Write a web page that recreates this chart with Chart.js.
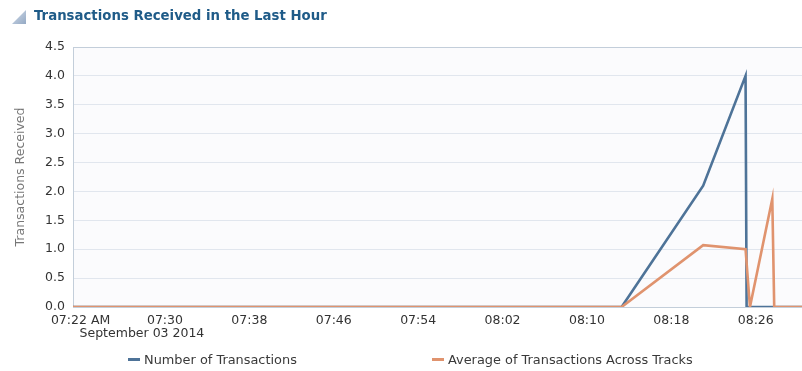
<!DOCTYPE html>
<html>
<head>
<meta charset="utf-8">
<script src="https://cdn.jsdelivr.net/npm/chart.js@4/dist/chart.umd.min.js"></script>
<style>
  html, body { margin: 0; padding: 0; background: #ffffff; }
  #wrap { position: relative; width: 802px; height: 371px; overflow: hidden; font-family: "DejaVu Sans", sans-serif; }
  #chart { position: absolute; left: 0; top: 0; }
  #title { position: absolute; left: 34px; top: 8px; font-size: 13.3px; font-weight: bold; color: #1f5b88; white-space: nowrap; }
  #icon { position: absolute; left: 12px; top: 10px; }
  .leg { position: absolute; top: 352px; font-size: 12.9px; color: #3a3a3a; white-space: nowrap; }
  .sw { display: inline-block; width: 12px; height: 3px; vertical-align: middle; margin-right: 4px; position: relative; top: -1px; }
</style>
</head>
<body>
<div id="wrap">
  <canvas id="chart" width="802" height="371"></canvas>
  <svg id="icon" width="14" height="14" viewBox="0 0 14 14">
    <defs>
      <linearGradient id="tri" x1="0" y1="0" x2="1" y2="1">
        <stop offset="0" stop-color="#d3ddea"/>
        <stop offset="1" stop-color="#94a9c4"/>
      </linearGradient>
    </defs>
    <polygon points="14,0 14,14 0,14" fill="url(#tri)"/>
  </svg>
  <div id="title">Transactions Received in the Last Hour</div>
  <div class="leg" style="left:128px"><span class="sw" style="background:#4e7398"></span>Number of Transactions</div>
  <div class="leg" style="left:432px"><span class="sw" style="background:#e0936e"></span>Average of Transactions Across Tracks</div>
</div>
<script>
// Sample times (HH:MM:SS) and values for each series
const countTimes = ["07:21:17", "08:13:17", "08:21:01", "08:25:02", "08:25:08", "08:30:23"];
const countValues = [0, 0, 2.1, 4.0, 0, 0];
const avgTimes = ["07:21:17", "08:13:17", "08:21:01", "08:25:02", "08:25:27", "08:27:34", "08:27:45", "08:30:23"];
const avgValues = [0, 0, 1.07, 1.0, 0, 1.87, 0, 0];
const xTickTimes = ["07:22", "07:30", "07:38", "07:46", "07:54", "08:02", "08:10", "08:18", "08:26"];
const yTicks = [0, 0.5, 1.0, 1.5, 2.0, 2.5, 3.0, 3.5, 4.0, 4.5];
const dateLabel = "September 03 2014";
const rangeStart = "07:21:17";
const rangeEnd = "08:30:23";

function toMinutes(t) {
  const p = t.split(":").map(Number);
  return p[0] * 60 + p[1] + (p[2] || 0) / 60;
}
function fmt(m) {
  const h = Math.floor(m / 60), mm = Math.round(m - h * 60);
  return String(h).padStart(2, "0") + ":" + String(mm).padStart(2, "0");
}
const pts = (times, vals) => times.map((t, i) => ({ x: toMinutes(t), y: vals[i] }));
const firstTick = toMinutes(xTickTimes[0]);
const FONT = "DejaVu Sans";

// plot background and the date line under the first time tick
const plotDecor = {
  id: "plotDecor",
  beforeDraw(chart) {
    const a = chart.chartArea, ctx = chart.ctx;
    ctx.save();
    ctx.fillStyle = "#fbfbfd";
    ctx.fillRect(a.left, a.top, a.right - a.left, a.bottom - a.top);
    ctx.restore();
  },
  afterDraw(chart) {
    const ctx = chart.ctx, x = chart.scales.x.getPixelForValue(firstTick);
    ctx.save();
    ctx.font = "12.5px '" + FONT + "'";
    ctx.fillStyle = "#333333";
    ctx.textAlign = "left";
    ctx.textBaseline = "middle";
    ctx.fillText(dateLabel, x - 1, 334);
    ctx.restore();
  }
};

new Chart(document.getElementById("chart"), {
  type: "line",
  data: {
    datasets: [
      {
        label: "Average of Transactions Across Tracks",
        data: pts(avgTimes, avgValues),
        borderColor: "#e0936e",
        borderWidth: 2.6,
        pointRadius: 0,
        tension: 0,
        fill: false
      },
      {
        label: "Number of Transactions",
        data: pts(countTimes, countValues),
        borderColor: "#4e7398",
        borderWidth: 2.6,
        pointRadius: 0,
        tension: 0,
        fill: false
      }
    ]
  },
  options: {
    responsive: false,
    animation: false,
    layout: { padding: { top: 47, right: 0, bottom: 20, left: 0 } },
    plugins: { legend: { display: false }, tooltip: { enabled: false } },
    scales: {
      x: {
        type: "linear",
        min: toMinutes(rangeStart),
        max: toMinutes(rangeEnd),
        afterBuildTicks(s) { s.ticks = xTickTimes.map(t => ({ value: toMinutes(t) })); },
        afterFit(s) { s.height = 44; },
        grid: { display: false, drawTicks: false },
        border: { display: true, color: "#c3ceda", width: 1 },
        ticks: {
          padding: 6,
          maxRotation: 0,
          autoSkip: false,
          color: "#333333",
          font: { family: FONT, size: 12.5 },
          callback: (v, i) => i === 0 ? fmt(v) + " AM" : fmt(v)
        }
      },
      y: {
        min: 0,
        max: 4.5,
        afterBuildTicks(s) { s.ticks = yTicks.map(v => ({ value: v })); },
        afterFit(s) { s.width = 73; },
        grid: {
          drawTicks: false,
          color: ctx => ctx.tick && ctx.tick.value === 4.5 ? "#c3ceda" : "#e1e6ee",
          lineWidth: 1
        },
        border: { display: true, color: "#c3ceda", width: 1 },
        ticks: {
          padding: 8,
          color: "#333333",
          font: { family: FONT, size: 12.5 },
          callback: v => Number(v).toFixed(1)
        },
        title: {
          display: true,
          text: "Transactions Received",
          color: "#777777",
          font: { family: FONT, size: 12.5 },
          padding: { top: 13, bottom: 0 }
        }
      }
    }
  },
  plugins: [plotDecor]
});
</script>
</body>
</html>
